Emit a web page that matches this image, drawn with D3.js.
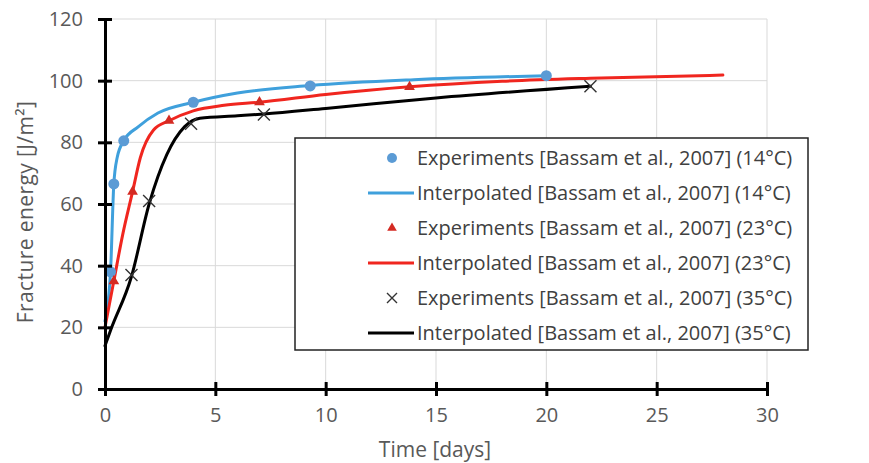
<!DOCTYPE html>
<html>
<head>
<meta charset="utf-8">
<script src="https://cdn.jsdelivr.net/npm/d3@7/dist/d3.min.js"></script>
<style>
  html, body { margin: 0; padding: 0; background: #fff; }
  svg { display: block; font-family: "Open Sans", "Noto Sans", sans-serif; }
</style>
</head>
<body>
<svg id="chart" width="869" height="463"></svg>
<script>
// Axis ticks
const xTicks = [0, 5, 10, 15, 20, 25, 30];
const yTicks = [0, 20, 40, 60, 80, 100, 120];

// Measured points [day, J/m²]
const exp14 = [[0.25, 38], [0.4, 66.5], [0.85, 80.5], [4, 93], [9.3, 98.3], [20, 101.6]];
const exp23 = [[0.4, 35], [1.25, 64], [2.9, 87], [7, 93], [13.8, 98]];
const exp35 = [[1.2, 37], [2, 61], [3.9, 86], [7.2, 89], [22, 98.2]];

// Interpolated curves [day, J/m²]
const fit14 = [[0, 22], [0.25, 38], [0.4, 66.5], [0.55, 75], [0.85, 80.5], [1.5, 85], [2.4, 89.5],
               [4, 93], [6, 96], [9.3, 98.4], [14, 100.3], [20, 101.6]];
const fit23 = [[0, 20], [0.4, 35], [0.8, 50], [1.25, 64], [1.6, 75], [2.2, 84], [2.9, 87], [4, 90.2],
               [5.4, 92], [7, 93], [10, 95.5], [13.8, 98], [18, 99.8], [22, 100.8], [28, 101.8]];
const fit35 = [[0, 14], [0.25, 19], [1.2, 36.5], [2, 60], [2.8, 76], [3.6, 85], [4.3, 87.8],
               [6, 88.6], [7.2, 89.2], [10, 91], [15, 94.4], [22, 98.2]];

const legendLabels = [
  "Experiments [Bassam et al., 2007] (14°C)",
  "Interpolated [Bassam et al., 2007] (14°C)",
  "Experiments [Bassam et al., 2007] (23°C)",
  "Interpolated [Bassam et al., 2007] (23°C)",
  "Experiments [Bassam et al., 2007] (35°C)",
  "Interpolated [Bassam et al., 2007] (35°C)"
];

const blueLine = "#3fa0dc", blueDot = "#5b9bd5";
const redLine = "#f0261f", redMark = "#d42a22";
const blackLine = "#000", crossColor = "#333";
const textGrey = "#595959";

const svg = d3.select("#chart");
const m = { left: 105, right: 767, top: 19, bottom: 389 };

const x = d3.scaleLinear().domain([0, 30]).range([m.left, m.right]);
const y = d3.scaleLinear().domain([0, 120]).range([m.bottom, m.top]);

// Gridlines
const grid = svg.append("g");
grid.selectAll(".gx").data(xTicks.slice(1)).join("line")
  .attr("x1", d => x(d)).attr("x2", d => x(d))
  .attr("y1", y(0)).attr("y2", y(120))
  .attr("stroke", "#d9d9d9").attr("stroke-width", 1);
grid.selectAll(".gy").data(yTicks.slice(1)).join("line")
  .attr("x1", x(0)).attr("x2", x(30))
  .attr("y1", d => y(d)).attr("y2", d => y(d))
  .attr("stroke", "#d9d9d9").attr("stroke-width", 1);

// Curves
const line = d3.line().x(d => x(d[0])).y(d => y(d[1])).curve(d3.curveMonotoneX);
[[fit14, blueLine], [fit23, redLine], [fit35, blackLine]].forEach(([data, col]) => {
  svg.append("path").datum(data).attr("d", line)
    .attr("fill", "none").attr("stroke", col).attr("stroke-width", 3)
    .attr("stroke-linejoin", "round").attr("stroke-linecap", "round");
});

// Markers
const tri = d3.symbol().type(d3.symbolTriangle).size(50);
function drawCross(g, cx, cy, r) {
  g.append("path")
    .attr("d", `M${cx - r},${cy - r}L${cx + r},${cy + r}M${cx - r},${cy + r}L${cx + r},${cy - r}`)
    .attr("stroke", crossColor).attr("stroke-width", 1.4).attr("fill", "none");
}
const marks = svg.append("g");
marks.selectAll(".dot").data(exp14).join("circle")
  .attr("cx", d => x(d[0])).attr("cy", d => y(d[1])).attr("r", 5.5).attr("fill", blueDot);
marks.selectAll(".tri").data(exp23).join("path")
  .attr("d", tri).attr("transform", d => `translate(${x(d[0])},${y(d[1])})`).attr("fill", redMark);
exp35.forEach(d => drawCross(marks, x(d[0]), y(d[1]), 6));

// Axes
const xAxis = svg.append("g").attr("transform", `translate(0,${y(0)})`)
  .call(d3.axisBottom(x).tickValues(xTicks).tickSize(0).tickPadding(19));
const yAxis = svg.append("g").attr("transform", `translate(${x(0)},0)`)
  .call(d3.axisLeft(y).tickValues(yTicks).tickSize(0).tickPadding(22));
[xAxis, yAxis].forEach(a => {
  a.select(".domain").attr("stroke", "#000").attr("stroke-width", 3);
  a.selectAll("text").attr("fill", textGrey).style("font-size", "20px")
    .style("font-family", "'Open Sans', sans-serif");
});
xAxis.selectAll(".tick").append("line").attr("y1", -7).attr("y2", 7)
  .attr("stroke", "#000").attr("stroke-width", 3);
yAxis.selectAll(".tick").append("line").attr("x1", -7).attr("x2", 7)
  .attr("stroke", "#000").attr("stroke-width", 3);

// Axis titles
svg.append("text").attr("x", 435).attr("y", 457)
  .attr("text-anchor", "middle").attr("fill", textGrey).style("font-size", "21px")
  .text("Time [days]");
svg.append("text").attr("transform", "translate(33,212) rotate(-90)")
  .attr("text-anchor", "middle").attr("fill", textGrey).style("font-size", "21px")
  .style("letter-spacing", "0.4px")
  .text("Fracture energy [J/m²]");

// Legend
const leg = svg.append("g");
leg.append("rect").attr("x", 295).attr("y", 138).attr("width", 513).attr("height", 212)
  .attr("fill", "#fff").attr("stroke", "#222").attr("stroke-width", 1.5);
const rowY = i => 158 + i * 35;
const legendKinds = [
  { type: "dot", col: blueDot }, { type: "line", col: blueLine },
  { type: "tri", col: redMark }, { type: "line", col: redLine },
  { type: "cross", col: crossColor }, { type: "line", col: blackLine }
];
legendKinds.forEach((k, i) => {
  const cy = rowY(i);
  if (k.type === "dot") leg.append("circle").attr("cx", 392).attr("cy", cy).attr("r", 5).attr("fill", k.col);
  if (k.type === "tri") leg.append("path").attr("d", d3.symbol().type(d3.symbolTriangle).size(40))
    .attr("transform", `translate(392,${cy})`).attr("fill", k.col);
  if (k.type === "cross") drawCross(leg, 392, cy, 5);
  if (k.type === "line") leg.append("line").attr("x1", 368).attr("x2", 414)
    .attr("y1", cy).attr("y2", cy).attr("stroke", k.col).attr("stroke-width", 3);
  leg.append("text").attr("x", 417).attr("y", cy).attr("dy", "0.35em")
    .attr("fill", "#404040").style("font-size", "20px").text(legendLabels[i]);
});
</script>
</body>
</html>
